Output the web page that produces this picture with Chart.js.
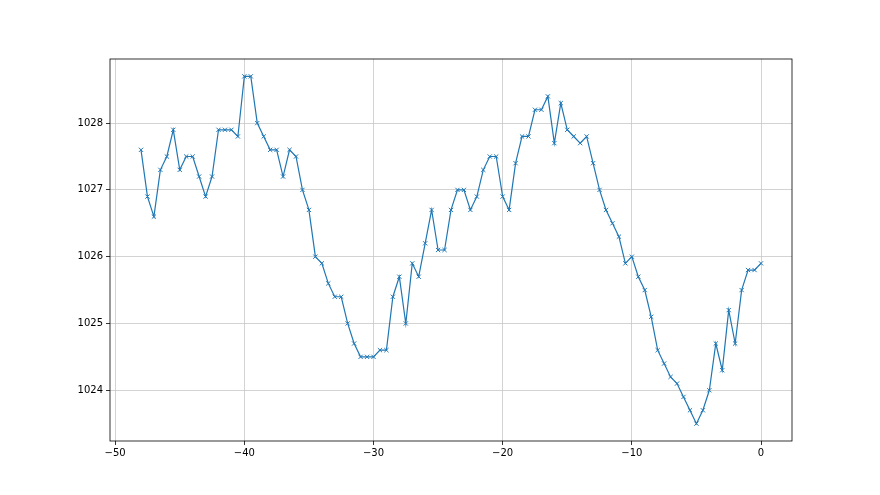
<!DOCTYPE html>
<html>
<head>
<meta charset="utf-8">
<script src="https://cdn.jsdelivr.net/npm/chart.js@4"></script>
<style>
  html, body { margin: 0; padding: 0; background: #fff; }
  #Presion { display: block; }
</style>
</head>
<body>
<canvas id="Presion" width="880" height="495"></canvas>
<script>
// hours before now
var horas = [
  -48, -47.5, -47, -46.5, -46, -45.5, -45, -44.5, -44, -43.5,
  -43, -42.5, -42, -41.5, -41, -40.5, -40, -39.5, -39, -38.5,
  -38, -37.5, -37, -36.5, -36, -35.5, -35, -34.5, -34, -33.5,
  -33, -32.5, -32, -31.5, -31, -30.5, -30, -29.5, -29, -28.5,
  -28, -27.5, -27, -26.5, -26, -25.5, -25, -24.5, -24, -23.5,
  -23, -22.5, -22, -21.5, -21, -20.5, -20, -19.5, -19, -18.5,
  -18, -17.5, -17, -16.5, -16, -15.5, -15, -14.5, -14, -13.5,
  -13, -12.5, -12, -11.5, -11, -10.5, -10, -9.5, -9, -8.5,
  -8, -7.5, -7, -6.5, -6, -5.5, -5, -4.5, -4, -3.5,
  -3, -2.5, -2, -1.5, -1, -0.5, 0
];

// pressure readings
var presion = [
  1027.6, 1026.9, 1026.6, 1027.3, 1027.5, 1027.9, 1027.3, 1027.5, 1027.5, 1027.2,
  1026.9, 1027.2, 1027.9, 1027.9, 1027.9, 1027.8, 1028.7, 1028.7, 1028.0, 1027.8,
  1027.6, 1027.6, 1027.2, 1027.6, 1027.5, 1027.0, 1026.7, 1026.0, 1025.9, 1025.6,
  1025.4, 1025.4, 1025.0, 1024.7, 1024.5, 1024.5, 1024.5, 1024.6, 1024.6, 1025.4,
  1025.7, 1025.0, 1025.9, 1025.7, 1026.2, 1026.7, 1026.1, 1026.1, 1026.7, 1027.0,
  1027.0, 1026.7, 1026.9, 1027.3, 1027.5, 1027.5, 1026.9, 1026.7, 1027.4, 1027.8,
  1027.8, 1028.2, 1028.2, 1028.4, 1027.7, 1028.3, 1027.9, 1027.8, 1027.7, 1027.8,
  1027.4, 1027.0, 1026.7, 1026.5, 1026.3, 1025.9, 1026.0, 1025.7, 1025.5, 1025.1,
  1024.6, 1024.4, 1024.2, 1024.1, 1023.9, 1023.7, 1023.5, 1023.7, 1024.0, 1024.7,
  1024.3, 1025.2, 1024.7, 1025.5, 1025.8, 1025.8, 1025.9
];

var xTicks = [-50, -40, -30, -20, -10, 0];
var yTicks = [1024, 1025, 1026, 1027, 1028];

var puntos = horas.map(function (h, i) { return { x: h, y: presion[i] }; });

// matplotlib style frame on all four sides
var marco = {
  id: 'marco',
  afterDraw: function (chart) {
    var a = chart.chartArea, c = chart.ctx;
    c.save();
    c.strokeStyle = '#000';
    c.lineWidth = 0.8;
    c.strokeRect(a.left, a.top, a.right - a.left, a.bottom - a.top);
    c.restore();
  }
};

var ctx = document.getElementById('Presion').getContext('2d');
var chart = new Chart(ctx, {
  type: 'scatter',
  data: {
    datasets: [{
      data: puntos,
      showLine: true,
      borderColor: '#1f77b4',
      backgroundColor: '#1f77b4',
      borderWidth: 1.2,
      pointStyle: 'crossRot',
      pointRadius: 3,
      pointBorderWidth: 1,
      pointHoverRadius: 3,
      tension: 0
    }]
  },
  options: {
    responsive: false,
    animation: false,
    layout: { padding: { left: 0, top: 59, right: 88, bottom: 0 } },
    plugins: {
      legend: { display: false },
      tooltip: { enabled: false }
    },
    scales: {
      x: {
        type: 'linear',
        min: -50.4,
        max: 2.4,
        afterBuildTicks: function (s) { s.ticks = xTicks.map(function (v) { return { value: v }; }); },
        afterFit: function (s) { s.height = 54; },
        grid: { color: '#c8c8c8', lineWidth: 0.8, tickColor: '#000', tickLength: 4, drawOnChartArea: true },
        border: { display: false },
        ticks: {
          font: { family: 'DejaVu Sans', size: 10 },
          color: '#000',
          padding: 2,
          maxRotation: 0,
          callback: function (v) { return v < 0 ? '\u2212' + Math.abs(v) : String(v); }
        }
      },
      y: {
        min: 1023.24,
        max: 1028.96,
        afterBuildTicks: function (s) { s.ticks = yTicks.map(function (v) { return { value: v }; }); },
        afterFit: function (s) { s.width = 110; },
        grid: { color: '#c8c8c8', lineWidth: 0.8, tickColor: '#000', tickLength: 4 },
        border: { display: false },
        ticks: {
          font: { family: 'DejaVu Sans', size: 10 },
          color: '#000',
          padding: 3,
          callback: function (v) { return String(v); }
        }
      }
    }
  },
  plugins: [marco]
});
</script>
</body>
</html>
